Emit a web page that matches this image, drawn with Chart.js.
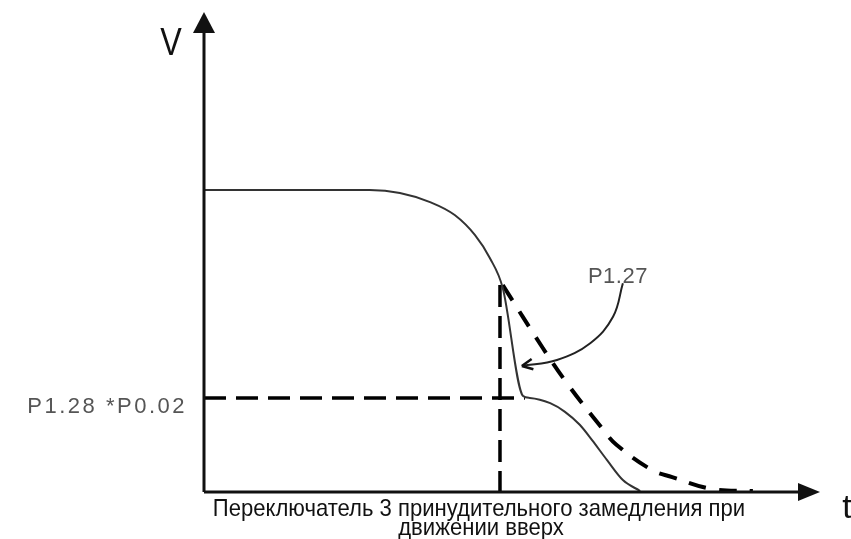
<!DOCTYPE html>
<html>
<head>
<meta charset="utf-8">
<script src="https://cdn.jsdelivr.net/npm/chart.js@4/dist/chart.umd.min.js"></script>
<style>
  html, body { margin: 0; padding: 0; background: #fff; }
  #wrap { width: 851px; height: 539px; }
</style>
</head>
<body>
<div id="wrap"><canvas id="speedChart"></canvas></div>
<script>
// speed profile (t, V) in arbitrary units 0..100
var speedT = [0, 26.9, 31.8, 36.7, 40.7, 44.0, 46.4, 48.5, 51.8, 52.9, 56.2, 58.6, 61.0, 63.0, 65.4, 68.0, 70.8];
var speedV = [62.9, 62.9, 62.3, 60.4, 57.7, 53.5, 48.75, 42.5, 20.0, 19.6, 18.5, 16.7, 14.0, 10.8, 6.7, 2.5, 0.2];

// normal deceleration (dashed)
var normT = [48.5, 55.0, 58.9, 64.6, 67.0, 72.7, 76.0, 82.6, 89.1];
var normV = [43.1, 30.0, 22.7, 13.3, 9.8, 4.6, 3.1, 0.6, 0.2];

// forced speed level and switch moment
var levelT = [0, 52.1];
var levelV = [19.6, 19.6];
var switchT = [48.05, 48.05];
var switchV = [43.1, 0];

// pointer to P1.27
var pointerT = [68.0, 66.4, 62.7, 57.3, 51.6];
var pointerV = [43.5, 36.5, 31.0, 27.5, 26.25];

var labelFont = '"Liberation Sans", Arial, sans-serif';

function pts(xs, ys) {
    return xs.map(function (x, i) { return { x: x, y: ys[i] }; });
}

function narrowText(ctx, text, x, y, sx) {
    ctx.save();
    ctx.translate(x, y);
    ctx.scale(sx, 1);
    ctx.fillText(text, 0, 0);
    ctx.restore();
}

var axesPlugin = {
    id: 'axesPlugin',
    afterDatasetsDraw: function (chart) {
        var ctx = chart.ctx;
        var xs = chart.scales.x, ys = chart.scales.y;
        var x0 = xs.getPixelForValue(0), y0 = ys.getPixelForValue(0);
        var xEnd = xs.getPixelForValue(100), yEnd = ys.getPixelForValue(100);
        ctx.save();
        ctx.strokeStyle = '#111';
        ctx.fillStyle = '#111';
        ctx.lineWidth = 3;
        ctx.beginPath();
        ctx.moveTo(x0, y0);
        ctx.lineTo(x0, yEnd + 18);
        ctx.moveTo(x0, y0);
        ctx.lineTo(xEnd - 20, y0);
        ctx.stroke();
        // arrow heads
        ctx.beginPath();
        ctx.moveTo(x0, yEnd);
        ctx.lineTo(x0 - 11, yEnd + 21);
        ctx.lineTo(x0 + 11, yEnd + 21);
        ctx.closePath();
        ctx.fill();
        ctx.beginPath();
        ctx.moveTo(xEnd, y0);
        ctx.lineTo(xEnd - 22, y0 - 9);
        ctx.lineTo(xEnd - 22, y0 + 9);
        ctx.closePath();
        ctx.fill();

        // pointer arrow head
        var meta = chart.getDatasetMeta(4);
        var n = meta.data.length;
        var p = meta.data[n - 1], q = meta.data[n - 2];
        var a = Math.atan2(p.y - q.y, p.x - q.x);
        ctx.beginPath();
        ctx.moveTo(p.x, p.y);
        ctx.lineTo(p.x - 12 * Math.cos(a - 0.45), p.y - 12 * Math.sin(a - 0.45));
        ctx.moveTo(p.x, p.y);
        ctx.lineTo(p.x - 12 * Math.cos(a + 0.45), p.y - 12 * Math.sin(a + 0.45));
        ctx.lineWidth = 2.5;
        ctx.stroke();

        // labels
        ctx.fillStyle = '#111';
        ctx.textBaseline = 'alphabetic';
        ctx.textAlign = 'center';
        ctx.font = '38px ' + labelFont;
        narrowText(ctx, 'V', x0 - 33, yEnd + 43, 0.85);
        ctx.font = '34px ' + labelFont;
        ctx.fillText('t', xEnd + 27, y0 + 26);

        ctx.fillStyle = '#555';
        ctx.font = '22px ' + labelFont;
        ctx.letterSpacing = '2.5px';
        ctx.textAlign = 'right';
        ctx.fillText('P1.28 *P0.02', x0 - 17, ys.getPixelForValue(levelV[0]) + 15);
        ctx.textAlign = 'center';
        ctx.letterSpacing = '0.5px';
        ctx.fillText('P1.27', xs.getPixelForValue(pointerT[0]) - 5, ys.getPixelForValue(pointerV[0]));
        ctx.letterSpacing = '0px';

        ctx.fillStyle = '#111';
        ctx.font = '24px ' + labelFont;
        narrowText(ctx, 'Переключатель 3 принудительного замедления при', 479, y0 + 24, 0.92);
        narrowText(ctx, 'движении вверх', 481, y0 + 43, 0.92);
        ctx.restore();
    }
};

var ctx = document.getElementById('speedChart').getContext('2d');
var chart = new Chart(ctx, {
    type: 'line',
    data: {
        datasets: [{
            data: pts(speedT, speedV),
            borderColor: '#333',
            borderWidth: 2,
            cubicInterpolationMode: 'monotone'
        }, {
            data: pts(normT, normV),
            borderColor: '#000',
            borderWidth: 4,
            borderDash: [18, 13],
            tension: 0.4
        }, {
            data: pts(levelT, levelV),
            borderColor: '#000',
            borderWidth: 3.5,
            borderDash: [22, 10]
        }, {
            data: pts(switchT, switchV),
            borderColor: '#000',
            borderWidth: 3.5,
            borderDash: [22, 9]
        }, {
            data: pts(pointerT, pointerV),
            borderColor: '#222',
            borderWidth: 2,
            tension: 0.4
        }]
    },
    options: {
        responsive: true,
        maintainAspectRatio: false,
        animation: false,
        layout: { padding: { left: 204, right: 31, top: 12, bottom: 47 } },
        elements: { point: { radius: 0 }, line: { fill: false } },
        plugins: { legend: { display: false }, tooltip: { enabled: false } },
        scales: {
            x: { type: 'linear', min: 0, max: 100, display: false },
            y: { type: 'linear', min: 0, max: 100, display: false }
        },
        datasets: { line: { clip: false } }
    },
    plugins: [axesPlugin]
});
</script>
</body>
</html>
